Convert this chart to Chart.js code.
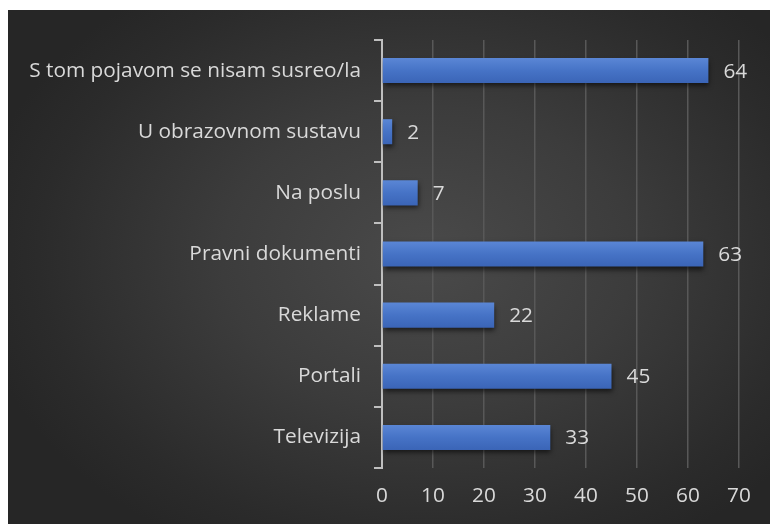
<!DOCTYPE html>
<html>
<head>
<meta charset="utf-8">
<script src="https://cdn.jsdelivr.net/npm/chart.js@4/dist/chart.umd.min.js"></script>
<style>
html,body{margin:0;padding:0;background:#fff;width:770px;height:524px;overflow:hidden;}
#wrap{position:absolute;left:8px;top:10px;width:762px;height:514px;
background:radial-gradient(ellipse 60% 65% at 55% 48%, #4a4a4a 0%, #3c3c3c 45%, #2b2b2b 85%, #262626 100%);}
canvas{display:block;}
</style>
</head>
<body>
<div id="wrap"><canvas id="c" width="762" height="514"></canvas></div>
<script>
const categories = ["S tom pojavom se nisam susreo/la","U obrazovnom sustavu","Na poslu","Pravni dokumenti","Reklame","Portali","Televizija"];
const values = [64, 2, 7, 63, 22, 45, 33];
const xTicks = [0, 10, 20, 30, 40, 50, 60, 70];

const FONT = '"Open Sans", Lato, sans-serif';
const TXT = '#d9d9d9';
const FS = 20.8;

const barShadow = {
  id: 'barShadow',
  beforeDatasetDraw(chart) {
    const ctx = chart.ctx;
    ctx.save();
    ctx.shadowColor = 'rgba(0,0,0,0.6)';
    ctx.shadowBlur = 5;
    ctx.shadowOffsetX = 1;
    ctx.shadowOffsetY = 3;
  },
  afterDatasetDraw(chart) {
    chart.ctx.restore();
  }
};

const valueLabels = {
  id: 'valueLabels',
  afterDatasetsDraw(chart) {
    const ctx = chart.ctx;
    const meta = chart.getDatasetMeta(0);
    ctx.save();
    ctx.fillStyle = TXT;
    ctx.font = FS + 'px ' + FONT;
    ctx.textAlign = 'left';
    ctx.textBaseline = 'middle';
    meta.data.forEach((bar, i) => {
      ctx.fillText(String(values[i]), bar.x + 15, bar.y + 1);
    });
    ctx.restore();
  }
};

function barGradient(context) {
  const chart = context.chart;
  const ys = chart.scales.y;
  if (!ys || context.dataIndex === undefined || !chart.chartArea) return '#4472C4';
  const yc = ys.getPixelForValue(context.dataIndex);
  if (!isFinite(yc)) return '#4472C4';
  const h = 13;
  const g = chart.ctx.createLinearGradient(0, yc - h, 0, yc + h);
  g.addColorStop(0, '#5b87d6');
  g.addColorStop(0.5, '#4673c6');
  g.addColorStop(1, '#3a64b6');
  return g;
}

new Chart(document.getElementById('c'), {
  type: 'bar',
  data: {
    labels: categories,
    datasets: [{
      data: values,
      backgroundColor: barGradient,
      borderWidth: 0,
      barPercentage: 0.41,
      categoryPercentage: 1.0
    }]
  },
  options: {
    indexAxis: 'y',
    responsive: false,
    animation: false,
    layout: { padding: { left: 0, right: 31, top: 30, bottom: 0 } },
    plugins: { legend: { display: false }, tooltip: { enabled: false } },
    scales: {
      x: {
        min: 0, max: 70,
        afterBuildTicks(scale) { scale.ticks = xTicks.map(v => ({ value: v })); },
        grid: { color: '#585858', lineWidth: 1.5, drawTicks: false },
        border: { display: false },
        ticks: { color: TXT, font: { family: FONT, size: FS }, padding: 16 },
        afterFit(scale) { scale.height = 56; }
      },
      y: {
        offset: true,
        grid: { offset: true, drawOnChartArea: false, color: '#bfbfbf', lineWidth: 2, tickLength: 8 },
        border: { display: true, color: '#bfbfbf', width: 2 },
        ticks: { color: TXT, font: { family: FONT, size: FS }, padding: 13 },
        afterFit(scale) { scale.width = 374; }
      }
    }
  },
  plugins: [barShadow, valueLabels]
});
</script>
</body>
</html>
